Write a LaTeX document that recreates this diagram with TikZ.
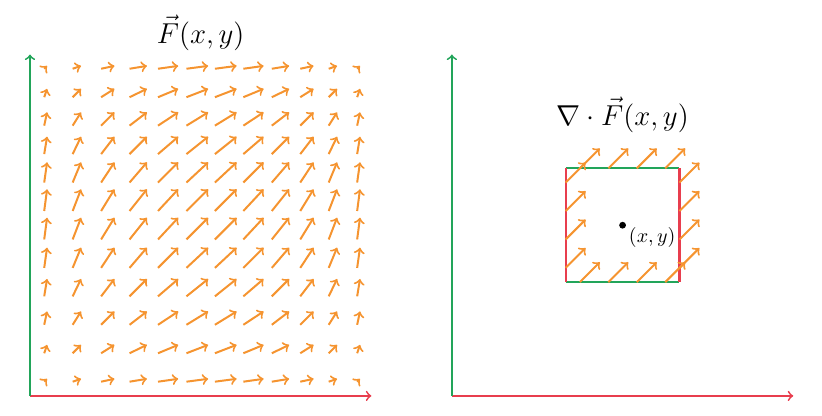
\documentclass[tikz,border=0pt]{standalone}
\definecolor{axgreen}{RGB}{34,165,90}
\definecolor{axred}{RGB}{232,62,78}
\definecolor{vecor}{RGB}{245,148,48}
\begin{document}
\begin{tikzpicture}[x=0.5cm,y=0.5cm,
  axis/.style={->, line width=0.9pt},
  vec/.style={->, line width=1pt, vecor},
  edge/.style={line width=1.1pt},
  ttl/.style={font=\Large, inner sep=0pt}]
\useasboundingbox (-1.054,-0.703) rectangle (27.84,13.917);
% ---------- left panel ----------
\coordinate (O1) at (0,0);
\coordinate (X1) at (12,0);
\coordinate (Y1) at (0,12);
\draw[axis, axred] (O1) -- (X1);
\draw[axis, axgreen] (O1) -- (Y1);
\foreach \i in {0,...,11}{
  \foreach \j in {0,...,11}{
    \draw[vec] (\i+0.5,\j+0.5) -- ++({0.77*sin(15*(\i+0.5))},{0.77*sin(15*(\j+0.5))});
  }
}
\node[ttl] (t1) at (6,12.76) {$\vec{F}(x,y)$};
% ---------- right panel ----------
\begin{scope}[shift={(14.83,0)}]
\coordinate (O2) at (0,0);
\coordinate (X2) at (12,0);
\coordinate (Y2) at (0,12);
\draw[axis, axred] (O2) -- (X2);
\draw[axis, axgreen] (O2) -- (Y2);
\coordinate (A) at (4,4);
\coordinate (B) at (8,4);
\coordinate (C) at (8,8);
\coordinate (D) at (4,8);
\draw[edge, axgreen] (A) -- (B);
\draw[edge, axgreen] (D) -- (C);
\draw[edge, axred] (A) -- (D);
\draw[edge, axred] (B) -- (C);
\foreach \t in {4.5,5.5,6.5,7.5}{
  \draw[vec] (\t,8) -- ++(0.7,0.7);
  \draw[vec] (\t,4) -- ++(0.7,0.7);
  \draw[vec] (4,\t) -- ++(0.7,0.7);
  \draw[vec] (8,\t) -- ++(0.7,0.7);
}
\node[circle, fill=black, inner sep=0pt, minimum size=3.4pt] (pt) at (6,6) {};
\node[anchor=north west, inner sep=0pt, xshift=3pt, yshift=-1pt] (lbl) at (pt.center) {$(x,y)$};
\node[ttl] (t2) at (6,9.88) {$\nabla\cdot\vec{F}(x,y)$};
\end{scope}
\end{tikzpicture}
\end{document}
